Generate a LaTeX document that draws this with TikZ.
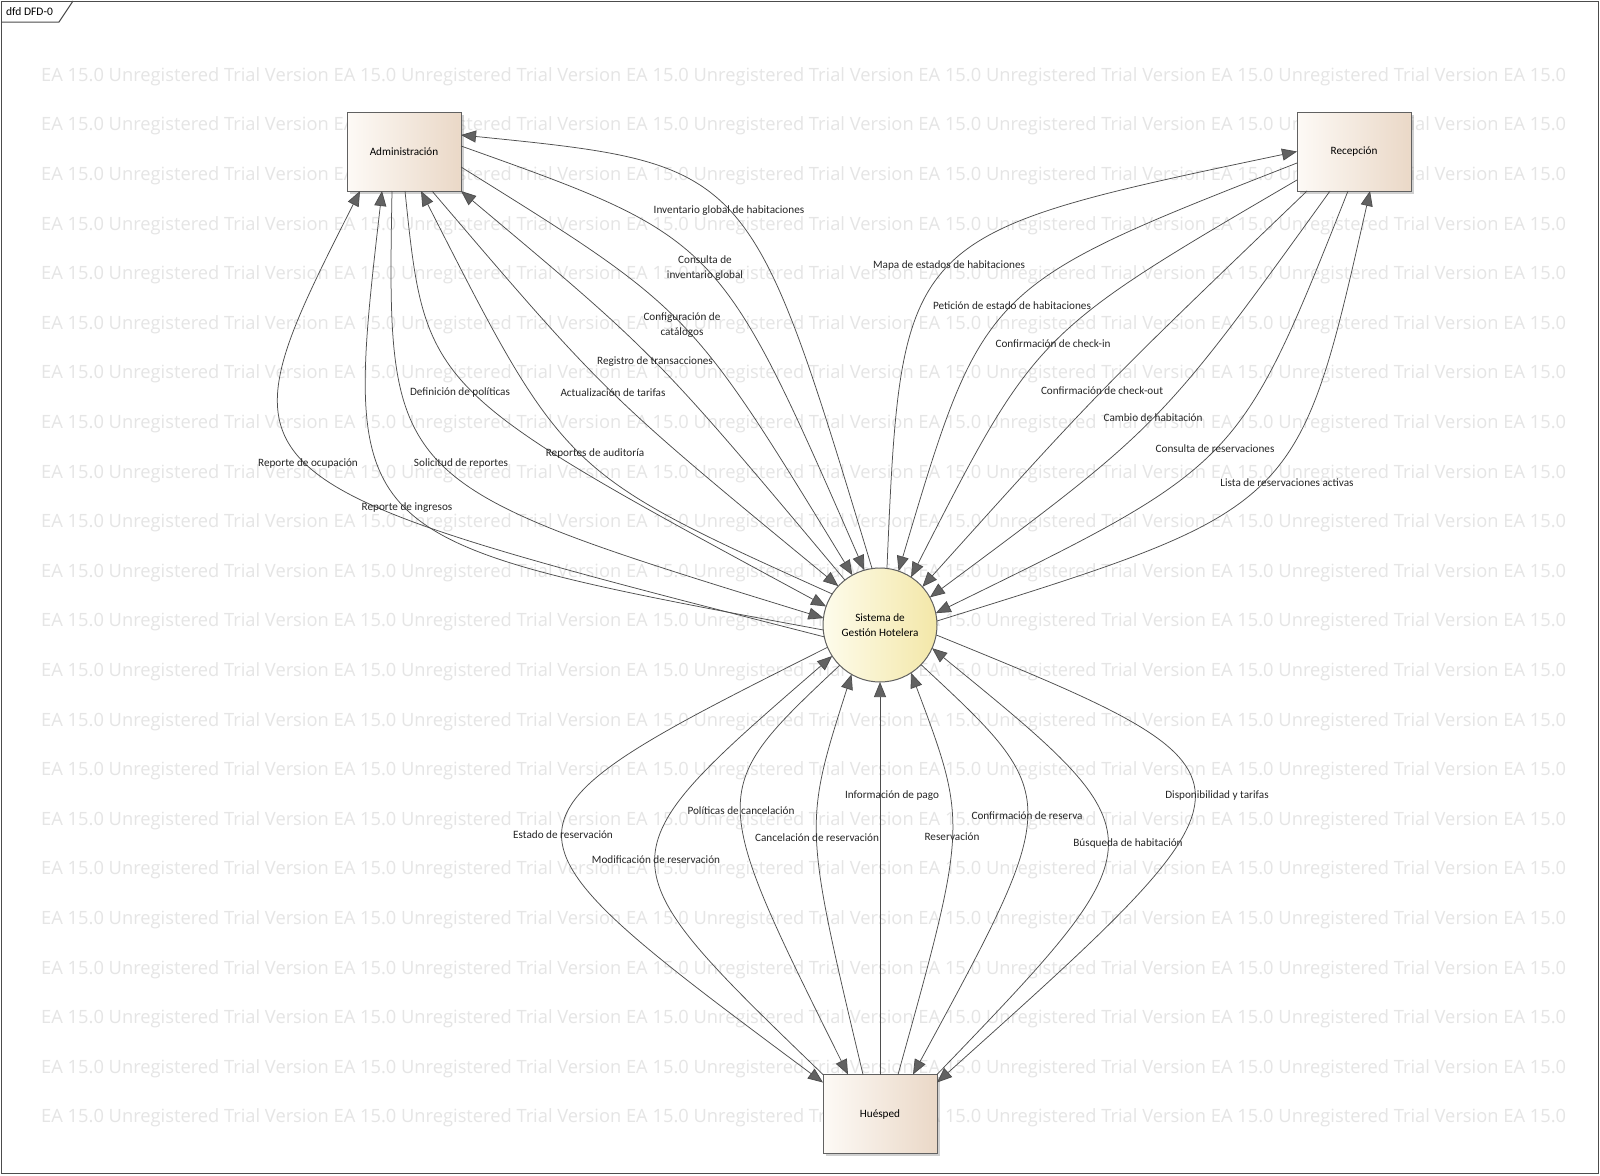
\documentclass[tikz,border=0pt]{standalone}
\usepackage{fontspec}
\setmainfont{Carlito}
\newfontfamily\wmfont{Open Sans}
\usetikzlibrary{arrows.meta,shadows}
\definecolor{lineg}{RGB}{78,78,78}
\definecolor{tipg}{RGB}{98,98,98}
\definecolor{boxl}{RGB}{253,250,246}
\definecolor{boxr}{RGB}{234,216,199}
\definecolor{procl}{RGB}{254,252,236}
\definecolor{procr}{RGB}{243,231,168}
\definecolor{wmg}{RGB}{229,229,229}
\newcommand\wmseg{EA 15.0 Unregistered Trial Version }
\newcommand\wmrow{\wmseg\wmseg\wmseg\wmseg\wmseg EA 15.0}

\begin{document}
\begin{tikzpicture}[x=1pt,y=-1pt,
    ent/.style={draw=black!62,line width=1pt,minimum width=114pt,minimum height=79pt,
      inner sep=0pt,outer sep=0pt,left color=boxl,right color=boxr,
      drop shadow={shadow xshift=2.5pt,shadow yshift=-2.5pt,opacity=.3,fill=black!60},
      font=\fontsize{11.2}{15}\selectfont},
    proc/.style={circle,draw=black!62,line width=1pt,minimum size=114pt,inner sep=0pt,
      outer sep=0pt,left color=procl,right color=procr,align=center,
      font=\fontsize{11.2}{15}\selectfont},
    flow/.style={draw=lineg,line width=.75pt,-{Triangle[length=15pt,width=12pt,fill=tipg]}},
    lbl/.style={font=\fontsize{11.2}{15}\selectfont,text=black!85,inner sep=0pt,align=center},
    wm/.style={font=\wmfont\fontsize{18.3}{20}\selectfont,text=wmg,anchor=west,inner sep=0pt},
    frm/.style={draw=black!70,line width=1pt}]
  % background
  \useasboundingbox (0,0) rectangle (1600,1175);
  \fill[white] (0,0) rectangle (1600,1175);
  \foreach \r in {0,...,21}
    \node[wm] (wm\r) at (41,{76.5+49.6*\r}) {\wmrow};
  \draw[frm] (1,1) rectangle (1598,1173);
  \draw[frm] (1,22) -- (59,22) -- (73,1);
  \node[anchor=west,inner sep=0pt,font=\fontsize{11.5}{13}\selectfont] (tab) at (6,11.5) {dfd DFD-0};

  % entities and process
  \node[ent] (adm) at (404,151.5) {Administración};
  \node[ent] (rec) at (1354,151.5) {Recepción};
  \node[ent] (hue) at (880,1114) {Huésped};
  \node[proc] (sys) at (880,625) {Sistema de\\Gestión Hotelera};

  % Administracion
  \draw[flow] (sys.192) .. controls (213.3,480.7) and (213.3,480.7) .. ([xshift=-44pt]adm.south)
      node[lbl,midway] (l-ocu) {Reporte de ocupación};
  \draw[flow] (sys.185) .. controls (341.8,540.5) and (341.8,540.5) .. ([xshift=-22pt]adm.south)
      node[lbl,midway] (l-ing) {Reporte de ingresos};
  \draw[flow] ([xshift=-12pt]adm.south) .. controls (386.8,483.8) and (386.8,483.8) .. (sys.173)
      node[lbl,midway,xshift=19pt] (l-sol) {Solicitud de reportes};
  \draw[flow] ([xshift=1pt]adm.south) .. controls (425.5,389.8) and (425.5,389.8) .. (sys.161)
      node[lbl,midway,xshift=-13pt] (l-pol) {Definición de políticas};
  \draw[flow] (sys.147) .. controls (564.5,473.2) and (564.5,473.2) .. ([xshift=17pt]adm.south)
      node[lbl,midway,xshift=15pt] (l-aud) {Reportes de auditoría};
  \draw[flow] ([xshift=28pt]adm.south) .. controls (605.6,394.5) and (605.6,394.5) .. (sys.137)
      node[lbl,midway] (l-tar) {Actualización de tarifas};
  \draw[flow] (sys.128) .. controls (655.7,354.2) and (655.7,354.2) .. (adm.south east)
      node[lbl,midway] (l-reg) {Registro de transacciones};
  \draw[flow] ([yshift=-15.5pt]adm.east) .. controls (690.4,309.7) and (690.4,309.7) .. (sys.119)
      node[lbl,midway] (l-cat) {Configuración de\\catálogos};
  \draw[flow] ([yshift=5.5pt]adm.east) .. controls (719.1,238) and (719.1,238) .. (sys.106)
      node[lbl,midway] (l-cinv) {Consulta de\\inventario global};
  \draw[flow] (sys.98) .. controls (749.8,164.1) and (749.8,164.1) .. ([yshift=16.5pt]adm.east)
      node[lbl,midway] (l-inv) {Inventario global de habitaciones};

  % Recepcion
  \draw[flow] (sys.83) .. controls (901.4,234.6) and (901.4,234.6) .. (rec.west)
      node[lbl,midway] (l-map) {Mapa de estados de habitaciones};
  \draw[flow] ([yshift=-11.5pt]rec.west) .. controls (983.4,285.7) and (983.4,285.7) .. (sys.71)
      node[lbl,midway] (l-pet) {Petición de estado de habitaciones};
  \draw[flow] ([yshift=-28.5pt]rec.west) .. controls (1036,332.5) and (1036,332.5) .. (sys.57)
      node[lbl,midway] (l-cin) {Confirmación de check-in};
  \draw[flow] ([xshift=-47pt]rec.south) .. controls (1097.8,391.7) and (1097.8,391.7) .. (sys.42)
      node[lbl,midway] (l-cout) {Confirmación de check-out};
  \draw[flow] ([xshift=-24pt]rec.south) .. controls (1160.7,425.9) and (1160.7,425.9) .. (sys.29)
      node[lbl,midway] (l-cam) {Cambio de habitación};
  \draw[flow] ([xshift=-6pt]rec.south) .. controls (1239.4,464.7) and (1239.4,464.7) .. (sys.12)
      node[lbl,midway] (l-cres) {Consulta de reservaciones};
  \draw[flow] (sys.4) .. controls (1298.2,508.7) and (1298.2,508.7) .. ([xshift=16pt]rec.south)
      node[lbl,midway,xshift=25pt] (l-lis) {Lista de reservaciones activas};

  % Huesped
  \draw[flow] (sys.203) .. controls (475.6,824.1) and (475.6,824.1) .. ([yshift=-8pt]hue.north west)
      node[lbl,midway] (l-est) {Estado de reservación};
  \draw[flow] (hue.north west) .. controls (598.8,858.2) and (598.8,858.2) .. (sys.213)
      node[lbl,midway] (l-mod) {Modificación de reservación};
  \draw[flow] (sys.225) .. controls (706.7,790.3) and (706.7,790.3) .. ([xshift=-32pt]hue.north)
      node[lbl,midway] (l-pca) {Políticas de cancelación};
  \draw[flow] ([xshift=-17pt]hue.north) .. controls (803.6,824.8) and (803.6,824.8) .. (sys.240)
      node[lbl,midway] (l-can) {Cancelación de reservación};
  \draw[flow] (hue.north) -- (sys.270)
      node[lbl,pos=.71,xshift=12pt] (l-pag) {Información de pago};
  \draw[flow] ([xshift=18pt]hue.north) .. controls (967.8,823.7) and (967.8,823.7) .. (sys.303)
      node[lbl,midway] (l-res) {Reservación};
  \draw[flow] (sys.316) .. controls (1063.7,797.1) and (1063.7,797.1) .. ([xshift=33pt]hue.north)
      node[lbl,midway] (l-con) {Confirmación de reserva};
  \draw[flow] (hue.north east) .. controls (1164.5,837.8) and (1164.5,837.8) .. (sys.336)
      node[lbl,midway,xshift=21pt] (l-bus) {Búsqueda de habitación};
  \draw[flow] (sys.350) .. controls (1279.8,775) and (1279.8,775) .. ([yshift=-8pt]hue.north east)
      node[lbl,midway,xshift=23pt] (l-dis) {Disponibilidad y tarifas};
\end{tikzpicture}
\end{document}
